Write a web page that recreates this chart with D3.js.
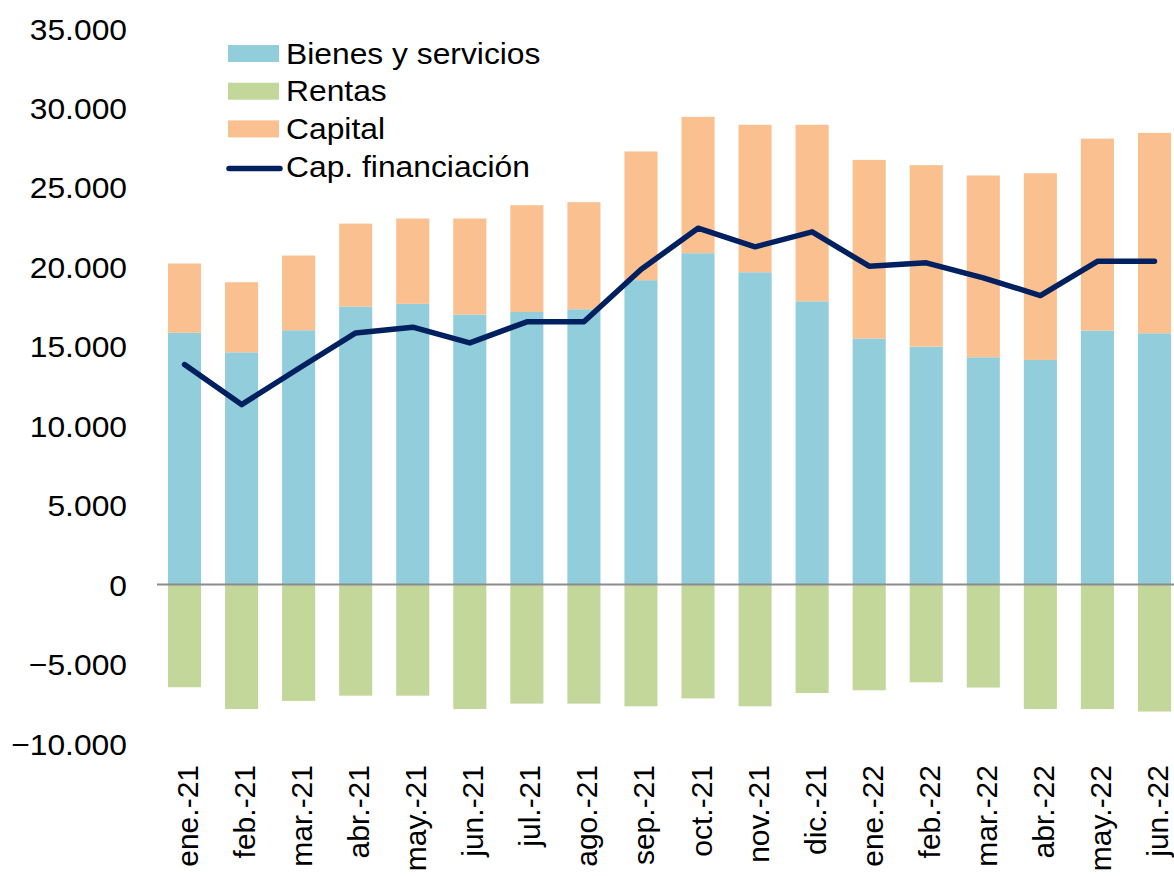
<!DOCTYPE html>
<html>
<head>
<meta charset="utf-8">
<script src="https://cdn.jsdelivr.net/npm/d3@7"></script>
<style>
  html, body { margin: 0; padding: 0; background: #ffffff; }
  svg { display: block; }
  text { font-family: "Liberation Sans", Arial, sans-serif; fill: #000; }
</style>
</head>
<body>
<div id="chart"></div>
<script>
const categories = ["ene.-21", "feb.-21", "mar.-21", "abr.-21", "may.-21", "jun.-21", "jul.-21", "ago.-21", "sep.-21", "oct.-21", "nov.-21", "dic.-21", "ene.-22", "feb.-22", "mar.-22", "abr.-22", "may.-22", "jun.-22"];
const bienesServicios = [15850, 14620, 16010, 17500, 17670, 17000, 17160, 17330, 19160, 20860, 19660, 17830, 15490, 14980, 14310, 14140, 15990, 15820];
const rentas = [-6460, -7830, -7320, -6990, -6990, -7830, -7490, -7490, -7660, -7160, -7660, -6820, -6650, -6150, -6480, -7830, -7830, -7990];
const capital = [4360, 4410, 4700, 5220, 5370, 6040, 6720, 6740, 8100, 8580, 9280, 11110, 11240, 11420, 11440, 11750, 12080, 12610];
const capFinanciacion = [13850, 11330, 13600, 15840, 16200, 15210, 16540, 16540, 19830, 22430, 21260, 22200, 20040, 20250, 19310, 18190, 20350, 20350];
const yTicks = [-10000, -5000, 0, 5000, 10000, 15000, 20000, 25000, 30000, 35000];
const seriesNames = ["Bienes y servicios", "Rentas", "Capital", "Cap. financiación"];
const colors = { bienes: "#92CDDC", rentas: "#C4D79B", capital: "#FAC090", line: "#002060" };

const W = 1174, H = 876;
const SX = 1.06; // horizontal stretch of the reference lettering
const svg = d3.select("#chart").append("svg").attr("width", W).attr("height", H);

const x = d3.scaleBand().domain(categories).range([156, 1183]).paddingInner(0.42).paddingOuter(0.21);
const y = d3.scaleLinear().domain([-10000, 35000]).range([743.5, 28.5]);

const fmt = v => d3.format(",")(v).replace(/,/g, ".");

// y-axis labels (no line, no ticks)
const yAxis = d3.axisLeft(y).tickValues(yTicks).tickFormat(fmt).tickSize(0).tickPadding(0);
const gy = svg.append("g").attr("transform", "translate(127,0)").call(yAxis);
gy.select(".domain").remove();
gy.selectAll("text")
  .attr("x", 0)
  .attr("font-size", 30).attr("font-family", "Liberation Sans, Arial, sans-serif").attr("fill", "#000")
  .attr("dy", "0.35em")
  .attr("transform", `scale(${SX},1)`);

// bars
const bars = svg.append("g");
categories.forEach((c, i) => {
  const bx = x(c), bw = x.bandwidth();
  bars.append("rect").attr("x", bx).attr("width", bw)
    .attr("y", y(bienesServicios[i])).attr("height", y(0) - y(bienesServicios[i]))
    .attr("fill", colors.bienes);
  bars.append("rect").attr("x", bx).attr("width", bw)
    .attr("y", y(bienesServicios[i] + capital[i])).attr("height", y(bienesServicios[i]) - y(bienesServicios[i] + capital[i]))
    .attr("fill", colors.capital);
  bars.append("rect").attr("x", bx).attr("width", bw)
    .attr("y", y(0)).attr("height", y(rentas[i]) - y(0))
    .attr("fill", colors.rentas);
});

// zero axis line
svg.append("line").attr("x1", 157).attr("x2", W).attr("y1", y(0)).attr("y2", y(0))
  .attr("stroke", "#8c8c8c").attr("stroke-width", 2);

// category labels rotated
const lab = svg.append("g");
categories.forEach(c => {
  const cx = x(c) + x.bandwidth() / 2;
  lab.append("text")
    .attr("transform", `translate(${cx},765) rotate(-90)`)
    .attr("text-anchor", "end")
    .attr("dy", "0.45em")
    .attr("font-size", 30)
    .text(c);
});

// line
const line = d3.line().x((d, i) => x(categories[i]) + x.bandwidth() / 2).y(d => y(d));
svg.append("path").datum(capFinanciacion).attr("d", line)
  .attr("fill", "none").attr("stroke", colors.line).attr("stroke-width", 5.5)
  .attr("stroke-linejoin", "round").attr("stroke-linecap", "round");

// legend
const leg = svg.append("g");
const legendItems = [
  { name: seriesNames[0], type: "rect", color: colors.bienes },
  { name: seriesNames[1], type: "rect", color: colors.rentas },
  { name: seriesNames[2], type: "rect", color: colors.capital },
  { name: seriesNames[3], type: "line", color: colors.line }
];
legendItems.forEach((d, i) => {
  const cy = 53.5 + i * 37.7;
  if (d.type === "rect") {
    leg.append("rect").attr("x", 228).attr("y", cy - 8.5).attr("width", 51).attr("height", 17).attr("fill", d.color);
  } else {
    leg.append("line").attr("x1", 229).attr("x2", 280).attr("y1", cy + 2).attr("y2", cy + 2)
      .attr("stroke", d.color).attr("stroke-width", 5.5).attr("stroke-linecap", "round");
  }
  leg.append("text").attr("transform", `translate(286,${cy + 10}) scale(${SX},1)`).attr("font-size", 30).text(d.name);
});
</script>
</body>
</html>
